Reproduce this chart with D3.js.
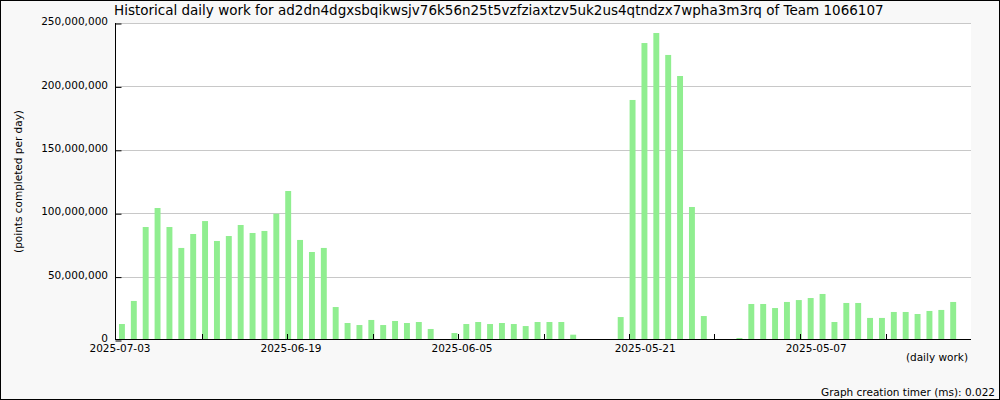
<!DOCTYPE html>
<html><head><meta charset="utf-8">
<script src="https://cdn.jsdelivr.net/npm/d3@7"></script>
<style>html,body{margin:0;padding:0;background:#fff}svg{display:block;font-family:"DejaVu Sans",sans-serif}</style>
</head><body><svg id="c" width="1000" height="400"></svg>
<script>
const title = "Historical daily work for ad2dn4dgxsbqikwsjv76k56n25t5vzfziaxtzv5uk2us4qtndzx7wpha3m3rq of Team 1066107";
const yTitle = "(points completed per day)";
const xTitle = "(daily work)";
const footer = "Graph creation timer (ms): 0.022";
const firstDate = "2025-07-03";
const dayCount = 71;
// points per day, millions, newest first
const dailyPointsM = [
  12.6, 30.8, 89.1, 104.1, 89.1, 72.6, 83.6, 93.8, 78.1, 82.0,
  90.7, 84.4, 86.0, 99.6, 117.5, 78.9, 69.4, 72.6, 26.0, 13.4,
  11.8, 15.8, 11.8, 15.0, 13.4, 14.2, 8.7, 0, 5.5, 12.6,
  14.2, 12.6, 13.4, 12.6, 11.0, 14.2, 14.2, 14.2, 4.2, 0,
  0, 0, 18.1, 189.3, 234.2, 242.1, 224.8, 208.2, 104.9, 18.9,
  0.8, 0.6, 1.6, 28.4, 28.4, 25.2, 30.0, 31.5, 33.1, 36.3,
  14.2, 29.2, 29.2, 17.4, 17.4, 22.1, 22.1, 20.5, 22.9, 23.7,
  30.0
];
const yTicks = [0, 50e6, 100e6, 150e6, 200e6, 250e6];
const xTickLabels = ["2025-07-03", "2025-06-19", "2025-06-05", "2025-05-21", "2025-05-07"];
const minorTickDays = 7;

const W = 1000, H = 400;
const L = 116, R = 971, T = 23, B = 340;

const parse = d3.utcParse("%Y-%m-%d");
const fmtDate = d3.utcFormat("%Y-%m-%d");
const d0 = parse(firstDate);
const dates = d3.range(dayCount).map(i => fmtDate(d3.utcDay.offset(d0, -i)));
const data = dates.map((d, i) => ({date: d, value: dailyPointsM[i] * 1e6}));

const svg = d3.select("#c");
svg.append("rect").attr("x", 0.5).attr("y", 0.5).attr("width", W - 1).attr("height", H - 1)
  .attr("fill", "#f8f8f8").attr("stroke", "#000");

const y = d3.scaleLinear().domain([0, 250e6]).range([B, T]);
const slot = (R - L) / (dayCount + 1);
const xb = d3.scaleBand().domain(dates).range([L, R - slot]).paddingInner(0.5).paddingOuter(0.25);
const xt = d3.scaleUtc().domain([d0, d3.utcDay.offset(d0, -(dayCount - 1))]).range([L, R]);

svg.append("rect").attr("x", L).attr("y", T).attr("width", R - L).attr("height", B - T).attr("fill", "#fff");

// grid
svg.append("g").selectAll("line").data(yTicks.filter(v => v > 0)).join("line")
  .attr("x1", L).attr("x2", R)
  .attr("y1", d => Math.round(y(d)) + 0.5).attr("y2", d => Math.round(y(d)) + 0.5)
  .attr("stroke", "#c8c8c8");

// bars
svg.append("g").selectAll("rect").data(data.filter(d => d.value > 0)).join("rect")
  .attr("x", d => xb(d.date)).attr("width", xb.bandwidth())
  .attr("y", d => y(d.value)).attr("height", d => B - y(d.value))
  .attr("fill", "#90ee90");

// y axis
const yAxis = svg.append("g").attr("transform", `translate(${L - 0.5},0)`)
  .call(d3.axisRight(y).tickValues(yTicks).tickSize(6).tickFormat(""));
yAxis.select(".domain").remove();
yAxis.selectAll("line").attr("stroke", "#000").attr("transform", "translate(0,0.5)");
svg.append("line").attr("x1", L - 0.5).attr("x2", L - 0.5).attr("y1", T).attr("y2", B).attr("stroke", "#000");
svg.append("g").selectAll("text").data(yTicks).join("text")
  .attr("x", 108).attr("y", d => y(d) - 1.5).attr("dy", "0.35em")
  .attr("text-anchor", "end").attr("font-size", "10.5px").attr("fill", "#000")
  .text(d3.format(","));

// x axis
svg.append("line").attr("x1", L - 1).attr("x2", R).attr("y1", B - 0.5).attr("y2", B - 0.5).attr("stroke", "#000");
const minorTicks = d3.range(minorTickDays, dayCount - 1, minorTickDays).map(k => d3.utcDay.offset(d0, -k));
svg.append("g").selectAll("line").data(minorTicks).join("line")
  .attr("x1", d => Math.round(xt(d)) + 0.5).attr("x2", d => Math.round(xt(d)) + 0.5)
  .attr("y1", B).attr("y2", B - 6).attr("stroke", "#000");
svg.append("g").selectAll("text").data(xTickLabels).join("text")
  .attr("x", d => xt(parse(d)) + 4).attr("y", 352)
  .attr("text-anchor", "middle").attr("font-size", "10.5px").attr("fill", "#000")
  .text(d => d);

// titles
svg.append("text").attr("x", 114).attr("y", 15).attr("font-size", "13.5px").attr("fill", "#000").text(title);
svg.append("text").attr("transform", `translate(22,${(T + B) / 2}) rotate(-90)`)
  .attr("text-anchor", "middle").attr("font-size", "10.5px").attr("fill", "#000").text(yTitle);
svg.append("text").attr("x", 968).attr("y", 361).attr("text-anchor", "end")
  .attr("font-size", "10.5px").attr("fill", "#000").text(xTitle);
svg.append("text").attr("x", 995).attr("y", 396).attr("text-anchor", "end")
  .attr("font-size", "10.5px").attr("fill", "#000").text(footer);
</script></body></html>
